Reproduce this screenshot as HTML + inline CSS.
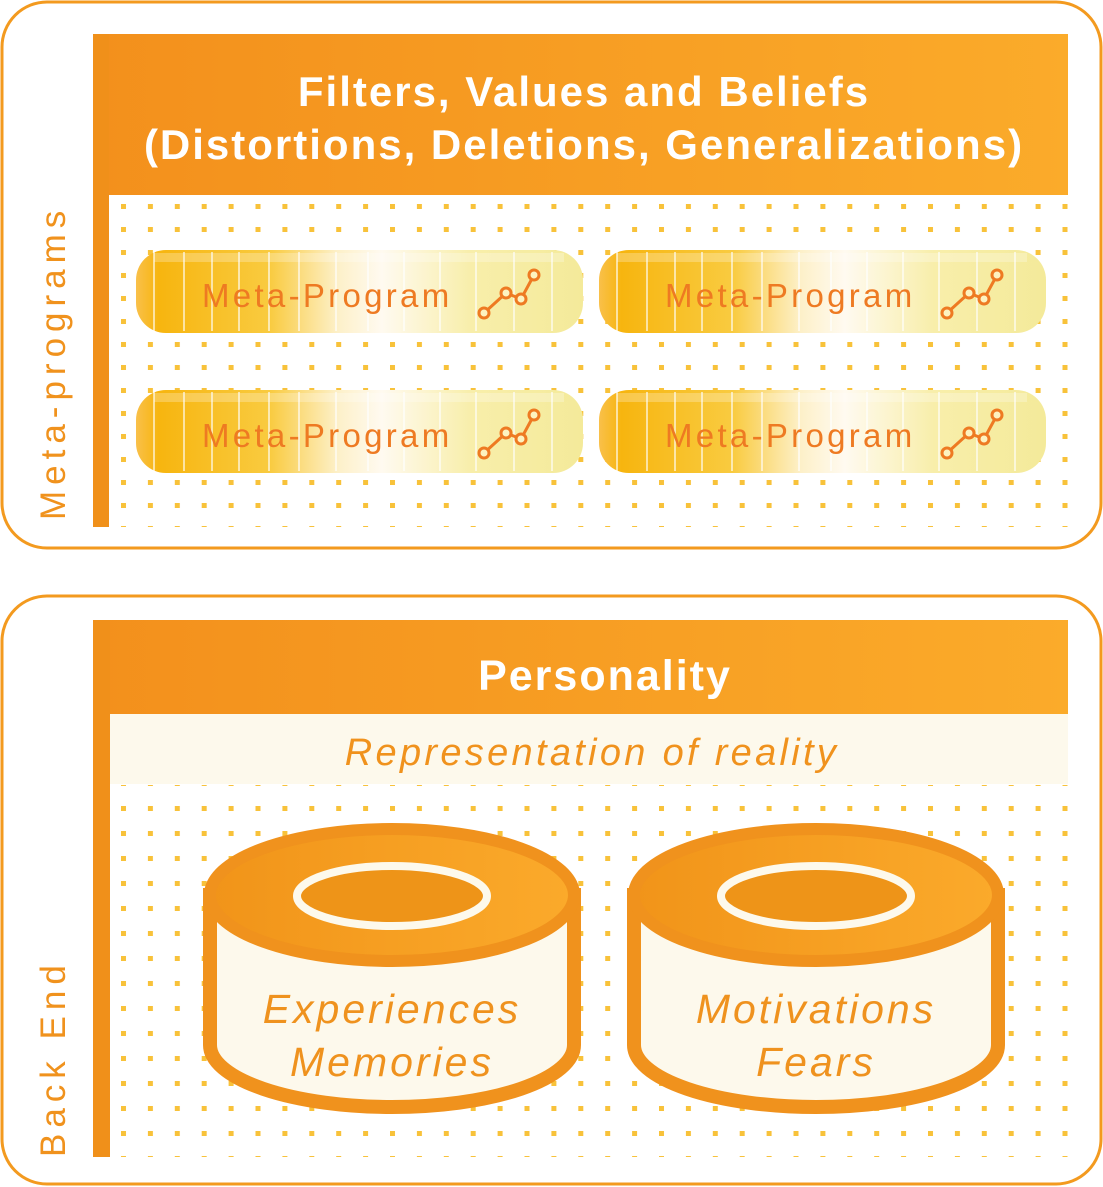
<!DOCTYPE html>
<html><head><meta charset="utf-8"><style>
html,body{margin:0;padding:0;background:#fff;}
svg{display:block;}
</style></head><body>
<svg width="1103" height="1187" viewBox="0 0 1103 1187" xmlns="http://www.w3.org/2000/svg" font-family="Liberation Sans, sans-serif">
<defs>
<pattern id="dots" x="121" y="204" width="26.9" height="23" patternUnits="userSpaceOnUse">
<rect x="0" y="0" width="5" height="5" fill="#f8c23a"/>
</pattern>
<pattern id="dots2" x="121" y="781" width="26.9" height="25" patternUnits="userSpaceOnUse">
<rect x="0" y="0" width="5" height="5" fill="#f8c23a"/>
</pattern>
<linearGradient id="hdr" x1="0" x2="1" y1="0" y2="0">
<stop offset="0" stop-color="#f3901c"/><stop offset="1" stop-color="#fbab2a"/>
</linearGradient>
<linearGradient id="pill" x1="0" x2="1" y1="0" y2="0">
<stop offset="0" stop-color="#f9c04a"/>
<stop offset="0.05" stop-color="#f7b50f"/>
<stop offset="0.3" stop-color="#f9cb40"/>
<stop offset="0.45" stop-color="#fdf0c8"/>
<stop offset="0.55" stop-color="#fffaf0"/>
<stop offset="0.75" stop-color="#f8eeaa"/>
<stop offset="1" stop-color="#f4ea9a"/>
</linearGradient>
<linearGradient id="cyl" x1="0" x2="1" y1="0" y2="0">
<stop offset="0" stop-color="#f19419"/><stop offset="1" stop-color="#fbaa2b"/>
</linearGradient>
<g id="pillg">
<rect x="0" y="0" width="447" height="83" rx="30" fill="url(#pill)"/>
<g stroke="#fff" stroke-width="1.5" opacity="0.8">
<line x1="18" y1="2" x2="18" y2="81"/><line x1="48" y1="2" x2="48" y2="81"/><line x1="76" y1="2" x2="76" y2="81"/><line x1="103" y1="2" x2="103" y2="81"/><line x1="133" y1="2" x2="133" y2="81"/><line x1="163" y1="2" x2="163" y2="81"/><line x1="200" y1="2" x2="200" y2="81"/><line x1="232" y1="2" x2="232" y2="81"/><line x1="268" y1="2" x2="268" y2="81"/><line x1="304" y1="2" x2="304" y2="81"/><line x1="340" y1="2" x2="340" y2="81"/><line x1="378" y1="2" x2="378" y2="81"/><line x1="416" y1="2" x2="416" y2="81"/>
</g>
<rect x="18" y="3" width="410" height="9" fill="#fff" opacity="0.25"/>
<text x="66" y="57" font-size="33" fill="#ee7a22" letter-spacing="3.3">Meta-Program</text>
<g fill="none" stroke="#ee7a22" stroke-width="3">
<polyline points="348,63 370,43 385,49 398,25"/>
<circle cx="348" cy="63" r="5" fill="#fdf2c0"/><circle cx="370" cy="43" r="5" fill="#fdf2c0"/><circle cx="385" cy="49" r="5" fill="#fdf2c0"/><circle cx="398" cy="25" r="5" fill="#fdf2c0"/>
</g>
</g>
</defs>

<!-- Box 1 -->
<rect x="2" y="2" width="1099" height="546" rx="45" fill="#fff" stroke="#f39a1f" stroke-width="3"/>
<rect x="109" y="195" width="959" height="332" fill="url(#dots)"/>
<rect x="93" y="34" width="975" height="161" fill="url(#hdr)"/>
<rect x="93" y="34" width="16" height="493" fill="#f0901a"/>
<text x="584" y="106" text-anchor="middle" font-size="42" font-weight="bold" fill="#fff" letter-spacing="2">Filters, Values and Beliefs</text>
<text x="584" y="159" text-anchor="middle" font-size="42" font-weight="bold" fill="#fff" letter-spacing="2">(Distortions, Deletions, Generalizations)</text>
<text transform="translate(65,520) rotate(-90)" font-size="35" fill="#f0921d" letter-spacing="6">Meta-programs</text>

<use href="#pillg" x="136" y="250"/>
<use href="#pillg" x="599" y="250"/>
<use href="#pillg" x="136" y="390"/>
<use href="#pillg" x="599" y="390"/>

<!-- Box 2 -->
<rect x="2" y="596" width="1099" height="588" rx="45" fill="#fff" stroke="#f39a1f" stroke-width="3"/>
<rect x="109" y="785" width="959" height="372" fill="url(#dots2)"/>
<rect x="93" y="620" width="975" height="94" fill="url(#hdr)"/>
<rect x="109" y="714" width="959" height="70" fill="#fdf9ec"/>
<rect x="93" y="620" width="17" height="537" fill="#f0901a"/>
<text x="605" y="690" text-anchor="middle" font-size="43" font-weight="bold" fill="#fff" letter-spacing="2">Personality</text>
<text x="592" y="765" text-anchor="middle" font-size="38" font-style="italic" fill="#f0921d" letter-spacing="3.3">Representation of reality</text>
<text transform="translate(65,1157) rotate(-90)" font-size="35" fill="#f0921d" letter-spacing="6">Back End</text>

<!-- Cylinders -->
<g>
<path d="M210,895 L210,1045 A182,62 0 0 0 574,1045 L574,895 Z" fill="#fdf9ec" stroke="#f0921d" stroke-width="14"/>
<ellipse cx="392" cy="895" rx="182" ry="66" fill="url(#cyl)" stroke="#f0921d" stroke-width="12"/>
<ellipse cx="392" cy="896" rx="95" ry="30" fill="#ee9418" stroke="#fdf9ec" stroke-width="8"/>
<text x="392" y="1023" text-anchor="middle" font-size="41" font-style="italic" fill="#ef921e" letter-spacing="3">Experiences</text>
<text x="392" y="1076" text-anchor="middle" font-size="41" font-style="italic" fill="#ef921e" letter-spacing="3">Memories</text>
</g>
<g>
<path d="M634,895 L634,1045 A182,62 0 0 0 998,1045 L998,895 Z" fill="#fdf9ec" stroke="#f0921d" stroke-width="14"/>
<ellipse cx="816" cy="895" rx="182" ry="66" fill="url(#cyl)" stroke="#f0921d" stroke-width="12"/>
<ellipse cx="816" cy="896" rx="95" ry="30" fill="#ee9418" stroke="#fdf9ec" stroke-width="8"/>
<text x="816" y="1023" text-anchor="middle" font-size="41" font-style="italic" fill="#ef921e" letter-spacing="3">Motivations</text>
<text x="816" y="1076" text-anchor="middle" font-size="41" font-style="italic" fill="#ef921e" letter-spacing="3">Fears</text>
</g>
</svg>
</body></html>
